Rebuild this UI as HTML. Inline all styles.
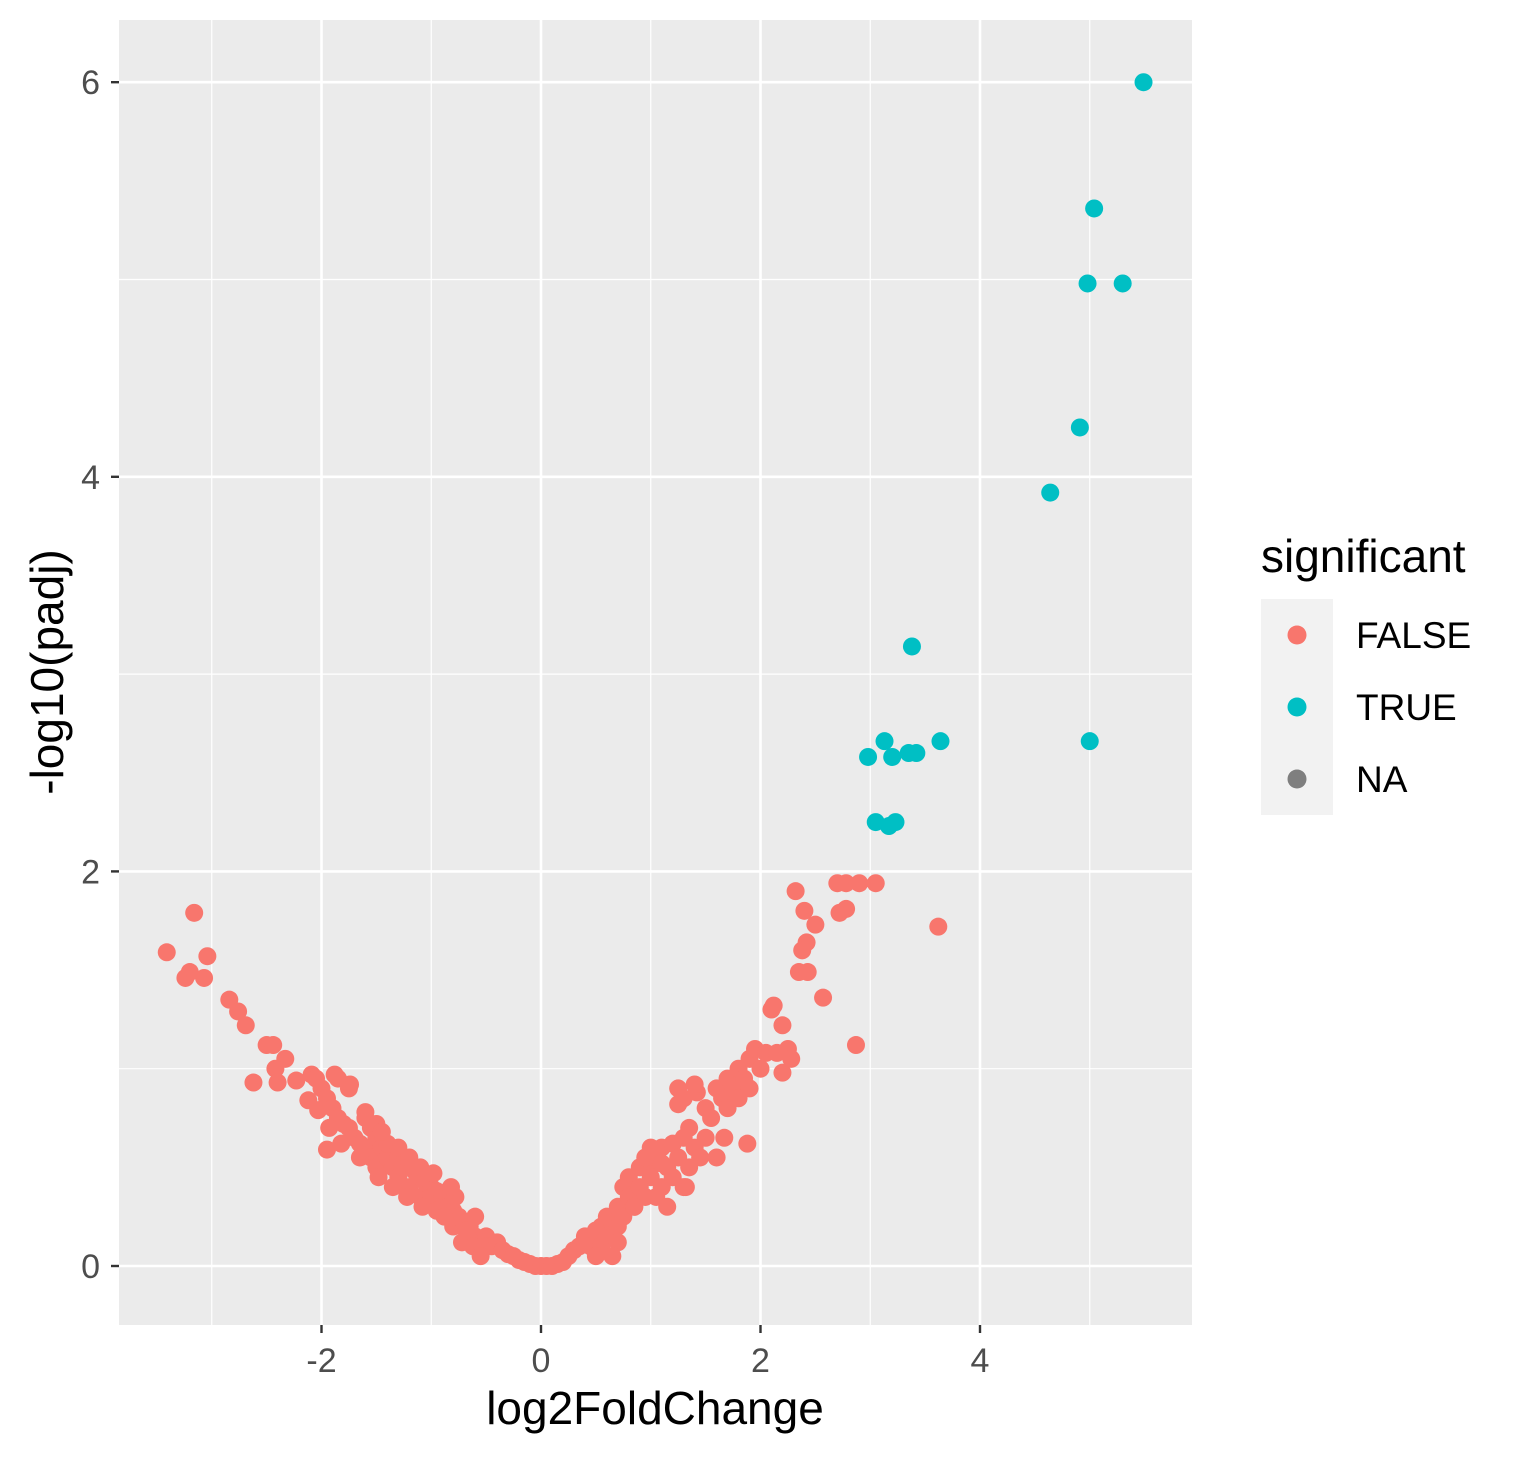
<!DOCTYPE html>
<html><head><meta charset="utf-8"><style>
html,body{margin:0;padding:0;background:#fff;}
svg{display:block;font-family:"Liberation Sans",sans-serif;}
</style></head><body>
<svg id="chart" width="1516" height="1458" viewBox="0 0 1516 1458">
<rect x="119" y="20" width="1073" height="1305" fill="#ebebeb"/>
<g id="grid"></g>
<g id="pts"></g>
<g id="axes"></g>
<text x="655" y="1424" font-size="46" text-anchor="middle" fill="#000">log2FoldChange</text>
<text transform="translate(63,672) rotate(-90)" font-size="46" text-anchor="middle" fill="#000">-log10(padj)</text>
<g>
<text x="1261" y="572" font-size="46" fill="#000">significant</text>
<rect x="1261" y="599" width="72" height="216" fill="#f2f2f2"/>
<circle cx="1297" cy="635" r="9.5" fill="#F8766D"/>
<circle cx="1297" cy="707" r="9.5" fill="#00BFC4"/>
<circle cx="1297" cy="779" r="9.5" fill="#7f7f7f"/>
<text x="1356" y="648" font-size="37" fill="#000">FALSE</text>
<text x="1356" y="720" font-size="37" fill="#000">TRUE</text>
<text x="1356" y="792" font-size="37" fill="#000">NA</text>
</g>
</svg>
<script>
const xTicks=[-2,0,2,4];
const yTicks=[0,2,4,6];
const xTickLabels=["-2","0","2","4"];
const yTickLabels=["0","2","4","6"];
const trueX=[5.49,5.04,4.98,5.30,4.91,4.64,3.38,3.13,3.64,5.0,2.98,3.20,3.35,3.42,3.05,3.23,3.17];
const trueY=[6.0,5.36,4.98,4.98,4.25,3.92,3.14,2.66,2.66,2.66,2.58,2.58,2.60,2.60,2.25,2.25,2.23];
const falseX=[-3.41,-3.16,-3.24,-3.2,-3.04,-3.07,-2.84,-2.76,-2.69,-2.62,-2.5,-2.44,-2.33,-2.42,-2.4,-2.23,-2.09,-2.12,-2.03,-1.95,-1.88,-1.74,
-2.0,-1.95,-1.9,-1.85,-1.8,-1.75,-1.7,-1.65,-1.6,-1.6,-1.55,-1.55,-1.5,-1.5,-1.45,-1.4,-1.4,-1.35,-1.3,-1.3,-1.25,-1.2,-1.2,-1.15,-1.1,-1.1,-1.05,-1.0,-1.0,-0.95,-0.9,-0.9,-0.85,-0.8,-0.8,-0.75,-0.7,-0.65,-0.6,-0.6,-0.55,-0.5,-0.5,-0.45,-0.4,-0.35,-0.3,-0.25,-0.2,-0.15,-0.1,-0.05,0,0.05,0.1,-2.05,-1.93,-1.82,-1.65,-1.48,-1.35,-1.22,-1.08,-0.95,-0.88,-0.78,-0.72,-0.68,-0.62,-0.55,
-1.75,-1.85,-1.6,-1.5,-1.45,-1.3,-1.2,-1.1,-0.98,-0.82,
0.15,0.2,0.25,0.3,0.35,0.4,0.45,0.5,0.55,0.55,0.6,0.6,0.65,0.7,0.7,0.75,0.75,0.8,0.8,0.85,0.9,0.9,0.95,1.0,1.0,1.05,1.05,1.1,1.1,1.15,1.2,1.2,1.25,1.3,1.3,1.35,1.35,1.4,1.45,1.5,1.5,1.55,1.6,1.6,1.65,1.7,1.7,1.75,1.8,1.8,1.85,1.9,1.9,1.95,2.0,2.05,2.1,2.12,2.15,2.2,2.2,2.25,2.28,1.25,1.25,1.3,1.42,1.4,1.67,1.88,1.32,1.15,0.85,2.32,2.4,2.5,2.42,2.38,2.35,2.43,2.57,2.7,2.78,2.9,3.05,2.72,2.78,3.62,2.87,1.0,0.95,1.1,0.7,0.65,0.5];
const falseY=[1.59,1.79,1.46,1.49,1.57,1.46,1.35,1.29,1.22,0.93,1.12,1.12,1.05,1.0,0.93,0.94,0.97,0.84,0.79,0.59,0.97,0.92,
0.9,0.85,0.8,0.75,0.72,0.7,0.65,0.62,0.75,0.6,0.7,0.55,0.65,0.5,0.6,0.55,0.62,0.5,0.55,0.45,0.5,0.52,0.4,0.48,0.45,0.35,0.42,0.4,0.35,0.38,0.35,0.3,0.3,0.28,0.2,0.25,0.22,0.2,0.15,0.25,0.12,0.15,0.1,0.1,0.12,0.08,0.06,0.05,0.03,0.02,0.01,0,0,0,0,0.95,0.7,0.62,0.55,0.45,0.4,0.35,0.3,0.28,0.25,0.35,0.12,0.18,0.1,0.05,
0.9,0.95,0.78,0.72,0.68,0.6,0.55,0.5,0.47,0.4,
0.01,0.02,0.05,0.08,0.1,0.15,0.1,0.18,0.2,0.1,0.25,0.15,0.22,0.3,0.2,0.4,0.25,0.35,0.45,0.3,0.5,0.4,0.35,0.5,0.45,0.55,0.35,0.4,0.6,0.5,0.45,0.62,0.55,0.65,0.4,0.5,0.7,0.6,0.55,0.8,0.65,0.75,0.9,0.55,0.85,0.95,0.8,0.9,1.0,0.85,0.95,1.05,0.9,1.1,1.0,1.08,1.3,1.32,1.08,1.22,0.98,1.1,1.05,0.82,0.9,0.85,0.88,0.92,0.65,0.62,0.4,0.3,0.3,1.9,1.8,1.73,1.64,1.6,1.49,1.49,1.36,1.94,1.94,1.94,1.94,1.79,1.81,1.72,1.12,0.6,0.55,0.52,0.12,0.05,0.05];
const NS="http://www.w3.org/2000/svg";
function sx(v){return 541+v*109.75;}
function sy(v){return 1266-v*197.3;}
const grid=document.getElementById('grid'),axes=document.getElementById('axes'),pts=document.getElementById('pts');
function line(g,x1,y1,x2,y2,c,w,name){const l=document.createElementNS(NS,'line');
l.setAttribute('x1',x1);l.setAttribute('y1',y1);l.setAttribute('x2',x2);l.setAttribute('y2',y2);l.setAttribute('stroke',c);l.setAttribute('stroke-width',w);


g.appendChild(l);}
for(let i=0;i<xTicks.length;i++){const v=xTicks[i];
line(grid,sx(v-1),20,sx(v-1),1325,'#fff',1.2,'x-minor-gridline');
line(grid,sx(v),20,sx(v),1325,'#fff',2.6,'x-major-gridline');}
line(grid,sx(5),20,sx(5),1325,'#fff',1.2,'x-minor-gridline');
for(let i=0;i<yTicks.length;i++){const v=yTicks[i];
line(grid,119,sy(v),1192,sy(v),'#fff',2.6,'y-major-gridline');
if(i<yTicks.length-1)line(grid,119,sy(v+1),1192,sy(v+1),'#fff',1.2,'y-minor-gridline');}
for(let i=0;i<xTicks.length;i++){const x=sx(xTicks[i]);
line(axes,x,1325,x,1333,'#333',2.4,'x-tick');
const t=document.createElementNS(NS,'text');t.setAttribute('x',x);t.setAttribute('y',1372);t.setAttribute('font-size','34');t.setAttribute('text-anchor','middle');t.setAttribute('fill','#4d4d4d');t.textContent=xTickLabels[i];


axes.appendChild(t);}
for(let i=0;i<yTicks.length;i++){const y=sy(yTicks[i]);
line(axes,111,y,119,y,'#333',2.4,'y-tick');
const t=document.createElementNS(NS,'text');t.setAttribute('x',100);t.setAttribute('y',y+12);t.setAttribute('font-size','34');t.setAttribute('text-anchor','end');t.setAttribute('fill','#4d4d4d');t.textContent=yTickLabels[i];


axes.appendChild(t);}
function dot(x,y,c,name){const d=document.createElementNS(NS,'circle');d.setAttribute('cx',sx(x));d.setAttribute('cy',sy(y));d.setAttribute('r',9);d.setAttribute('fill',c);


pts.appendChild(d);}
for(let i=0;i<falseX.length;i++)dot(falseX[i],falseY[i],'#F8766D','point-false');
for(let i=0;i<trueX.length;i++)dot(trueX[i],trueY[i],'#00BFC4','point-true');
</script>
</body></html>
